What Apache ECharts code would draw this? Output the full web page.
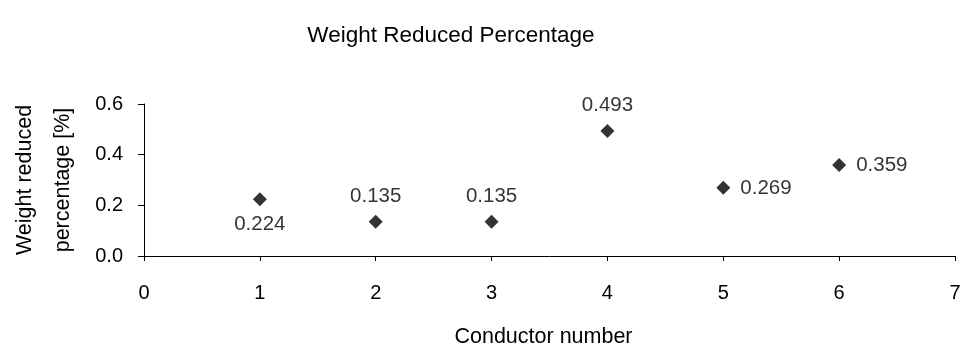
<!DOCTYPE html>
<html>
<head>
<meta charset="utf-8">
<script src="https://cdn.jsdelivr.net/npm/echarts@6/dist/echarts.min.js"></script>
<style>
  html, body { margin: 0; padding: 0; background: #fff; }
  #chart { width: 966px; height: 352px; }
</style>
</head>
<body>
<div id="chart"></div>
<script>
// Conductor numbers and the measured weight reduction of each
const conductors = [1, 2, 3, 4, 5, 6];
const reduction = [0.224, 0.135, 0.135, 0.493, 0.269, 0.359];
// Where each value label sits relative to its marker
const labelSides = ['bottom', 'top', 'top', 'top', 'right', 'right'];
const xTicks = [0, 1, 2, 3, 4, 5, 6, 7];
const yTicks = [0.0, 0.2, 0.4, 0.6];

const font = 'Liberation Sans, Arial, sans-serif';

const points = conductors.map((c, i) => ({
  value: [c, reduction[i]],
  label: {
    show: true,
    position: labelSides[i],
    distance: labelSides[i] === 'right' ? 10 : 8,
    formatter: () => reduction[i].toFixed(3),
    color: '#000',
    fontSize: 20.5,
    fontFamily: font
  }
}));

const chart = echarts.init(document.getElementById('chart'), null, { renderer: 'canvas' });
chart.setOption({
  backgroundColor: '#fff',
  animation: false,
  title: {
    text: 'Weight Reduced Percentage',
    left: 446,
    textAlign: 'center',
    top: 19,
    textStyle: { color: '#000', fontSize: 22.5, fontWeight: 'normal', fontFamily: font }
  },
  grid: {
    left: 144, right: 11, top: 104, bottom: 96,
    containLabel: false,
    outerBoundsMode: 'none'
  },
  xAxis: {
    type: 'value',
    min: xTicks[0],
    max: xTicks[xTicks.length - 1],
    interval: 1,
    name: 'Conductor number',
    nameLocation: 'middle',
    nameGap: 70,
    nameTextStyle: {
      color: '#000', fontSize: 21.5, fontFamily: font,
      padding: [0, 12, 0, 0]
    },
    axisLine: { show: true, lineStyle: { color: '#000', width: 1 } },
    axisTick: { show: true, length: 5, lineStyle: { color: '#000' } },
    axisLabel: { color: '#000', fontSize: 20, fontFamily: font, margin: 27 },
    splitLine: { show: false }
  },
  yAxis: {
    type: 'value',
    min: yTicks[0],
    max: yTicks[yTicks.length - 1],
    interval: 0.2,
    name: 'Weight reduced\npercentage [%]',
    nameLocation: 'middle',
    nameGap: 62,
    nameTextStyle: { color: '#000', fontSize: 21.5, fontFamily: font, lineHeight: 38 },
    axisLine: { show: true, lineStyle: { color: '#000', width: 1 } },
    axisTick: { show: true, length: 6, lineStyle: { color: '#000' } },
    axisLabel: {
      color: '#000', fontSize: 20, fontFamily: font, margin: 21,
      formatter: v => v.toFixed(1)
    },
    splitLine: { show: false }
  },
  series: [{
    type: 'scatter',
    symbol: 'diamond',
    symbolSize: 14,
    itemStyle: { color: '#000' },
    data: points
  }]
});
</script>
</body>
</html>
